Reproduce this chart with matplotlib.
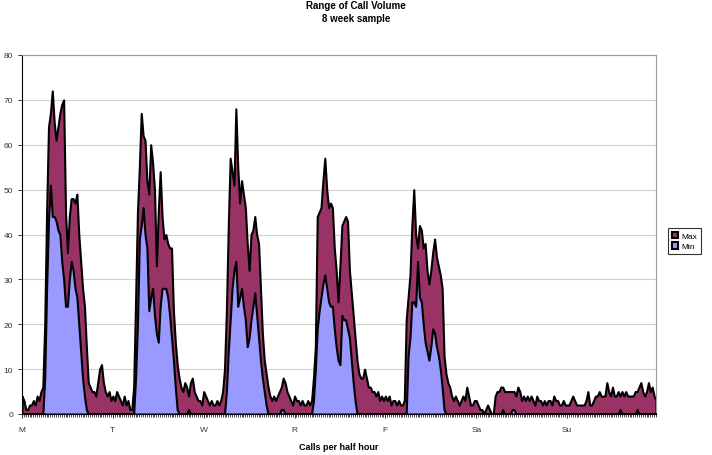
import numpy as np
import matplotlib
matplotlib.use("Agg")
import matplotlib.pyplot as plt

# Max / Min calls per half hour, 48 slots per day (Mon..Sun)
max_mon = [4, 3, 1, 1, 2, 2, 3, 2, 4, 3, 5, 6, 20, 45, 64, 67, 72, 65, 61, 64, 67, 69, 70, 45,
           36, 44, 48, 48, 47, 49, 40, 34, 28, 24, 15, 7, 6, 5, 5, 4, 7, 10, 11, 7, 5, 4, 5, 3]
max_tue = [4, 3, 5, 4, 3, 2, 4, 2, 3, 1, 1, 6, 25, 45, 55, 67, 62, 61, 52, 49, 60, 56, 50, 33,
           45, 54, 44, 39, 40, 38, 37, 37, 23, 16, 11, 8, 6, 5, 7, 6, 4, 7, 8, 5, 4, 3, 3, 2]
max_wed = [5, 4, 3, 2, 3, 2, 2, 3, 2, 3, 5, 10, 23, 42, 57, 54, 51, 68, 55, 47, 52, 49, 46, 38,
           32, 40, 41, 44, 40, 38, 28, 18, 12, 9, 6, 4, 3, 4, 3, 4, 5, 6, 8, 7, 5, 4, 3, 2]
max_thu = [4, 3, 3, 2, 3, 2, 2, 3, 2, 3, 8, 15, 44, 45, 46, 52, 57, 50, 46, 47, 46, 37, 32, 25,
           33, 42, 43, 44, 43, 32, 27, 22, 17, 12, 9, 8, 8, 10, 8, 6, 6, 5, 5, 4, 5, 3, 4, 3]
max_fri = [4, 3, 4, 2, 3, 3, 2, 3, 2, 2, 3, 21, 26, 31, 42, 50, 40, 37, 42, 41, 37, 38, 32, 29,
           32, 36, 39, 35, 33, 31, 28, 13, 9, 7, 6, 4, 3, 4, 3, 2, 3, 4, 3, 6, 4, 2, 2, 3]
max_sat = [3, 2, 1, 1, 0, 1, 2, 1, 0, 0, 4, 5, 5, 6, 6, 5, 5, 5, 5, 5, 5, 4, 6, 5,
           3, 4, 3, 4, 3, 4, 3, 2, 4, 3, 3, 2, 3, 2, 3, 3, 2, 4, 3, 3, 2, 2, 3, 2]
max_sun = [2, 2, 3, 4, 3, 2, 2, 2, 2, 2, 3, 5, 2, 2, 3, 4, 4, 5, 4, 4, 4, 7, 5, 4,
           6, 4, 4, 5, 4, 5, 4, 5, 4, 4, 4, 4, 5, 5, 6, 7, 5, 4, 5, 7, 5, 6, 4, 3]

min_mon = [0, 0, 0, 0, 0, 0, 0, 0, 0, 0, 0, 0, 8, 28, 43, 51, 44, 44, 43, 41, 40, 34, 30, 24,
           24, 30, 34, 32, 28, 26, 20, 14, 8, 4, 1, 0, 0, 0, 0, 0, 0, 0, 0, 0, 0, 0, 0, 0]
min_tue = [0, 0, 0, 0, 0, 0, 0, 0, 0, 0, 0, 0, 8, 20, 39, 42, 46, 40, 37, 23, 26, 28, 22, 18,
           16, 24, 28, 28, 28, 26, 22, 17, 12, 6, 1, 0, 0, 0, 0, 0, 1, 0, 0, 0, 0, 0, 0, 0]
min_wed = [0, 0, 0, 0, 0, 0, 0, 0, 0, 0, 0, 0, 5, 14, 21, 28, 32, 34, 24, 26, 28, 24, 21, 15,
           17, 21, 24, 27, 22, 17, 12, 8, 5, 2, 0, 0, 0, 0, 0, 0, 0, 1, 1, 0, 0, 0, 0, 0]
min_thu = [0, 0, 0, 0, 0, 0, 0, 0, 0, 0, 3, 10, 19, 23, 26, 29, 31, 28, 25, 24, 24, 19, 15, 12,
           11, 22, 21, 21, 19, 17, 12, 7, 3, 0, 0, 0, 0, 0, 0, 0, 0, 0, 0, 0, 0, 0, 0, 0]
min_fri = [0, 0, 0, 0, 0, 0, 0, 0, 0, 0, 0, 0, 13, 17, 25, 25, 24, 34, 26, 25, 20, 16, 14, 12,
           15, 19, 18, 15, 13, 10, 6, 1, 0, 0, 0, 0, 0, 0, 0, 0, 0, 0, 0, 0, 0, 0, 0, 0]
min_sat = [0, 0, 0, 0, 0, 0, 0, 0, 0, 0, 0, 0, 0, 0, 1, 0, 0, 0, 0, 1, 1, 0, 0, 0,
           0, 0, 0, 0, 0, 0, 0, 0, 0, 0, 0, 0, 0, 0, 0, 0, 0, 0, 0, 0, 0, 0, 0, 0]
min_sun = [0, 0, 0, 0, 0, 0, 0, 0, 0, 0, 0, 0, 0, 0, 0, 0, 0, 0, 0, 0, 0, 0, 0, 0,
           0, 0, 0, 0, 1, 0, 0, 0, 0, 0, 0, 0, 0, 1, 0, 0, 0, 0, 0, 0, 0, 0, 0, 0]

day_labels = ["M", "T", "W", "R", "F", "Sa", "Su"]

max_vals = np.array(max_mon + max_tue + max_wed + max_thu + max_fri + max_sat + max_sun)
min_vals = np.array(min_mon + min_tue + min_wed + min_thu + min_fri + min_sat + min_sun)
x = np.arange(len(max_vals))

plt.rcParams['font.family'] = ['Liberation Sans', 'DejaVu Sans']

fig = plt.figure(figsize=(7.12, 4.56), dpi=100)
ax = fig.add_axes([22 / 712, 1 - 415 / 456, (656 - 22) / 712, (415 - 56) / 456])

ax.fill_between(x, 0, max_vals, facecolor="#993366", edgecolor="black", linewidth=1.5, label="Max", zorder=2)
ax.fill_between(x, 0, min_vals, facecolor="#9999FF", edgecolor="black", linewidth=1.5, label="Min", zorder=3)

ax.set_xlim(0, len(x) - 1)
ax.set_ylim(0, 80)
ax.set_yticks(range(0, 81, 10))
ax.set_xticks(range(0, len(x), 48))
ax.set_xticklabels(day_labels)
ax.set_xticks(x, minor=True)
ax.tick_params(axis="both", labelsize=6, colors="#333333", length=3, width=0.7)
ax.tick_params(axis="x", which="minor", length=2, width=0.5)
ax.tick_params(axis="x", pad=6)
ax.grid(axis="y", color="#d0d0d0", linewidth=0.8, zorder=0)
ax.set_axisbelow(True)

for side in ["top", "right"]:
    ax.spines[side].set_color("#999999")
    ax.spines[side].set_linewidth(0.8)
for side in ["left", "bottom"]:
    ax.spines[side].set_color("black")
    ax.spines[side].set_linewidth(0.8)

ax.set_xlabel("Calls per half hour", fontsize=6.5, fontweight="bold", labelpad=6)

fig.text(0.5, 1 - 6 / 456, "Range of Call Volume", ha="center", va="center", fontsize=7, fontweight="bold")
fig.text(0.5, 1 - 19 / 456, "8 week sample", ha="center", va="center", fontsize=7, fontweight="bold")

leg = fig.legend(loc="center left", bbox_to_anchor=(664 / 712, 1 - 242 / 456), fontsize=6,
                 frameon=True, fancybox=False, edgecolor="black", handlelength=0.8, handleheight=0.8,
                 handletextpad=0.4, borderpad=0.4, labelspacing=0.3)
leg.get_frame().set_linewidth(0.8)

fig.savefig("out.png", dpi=100)
